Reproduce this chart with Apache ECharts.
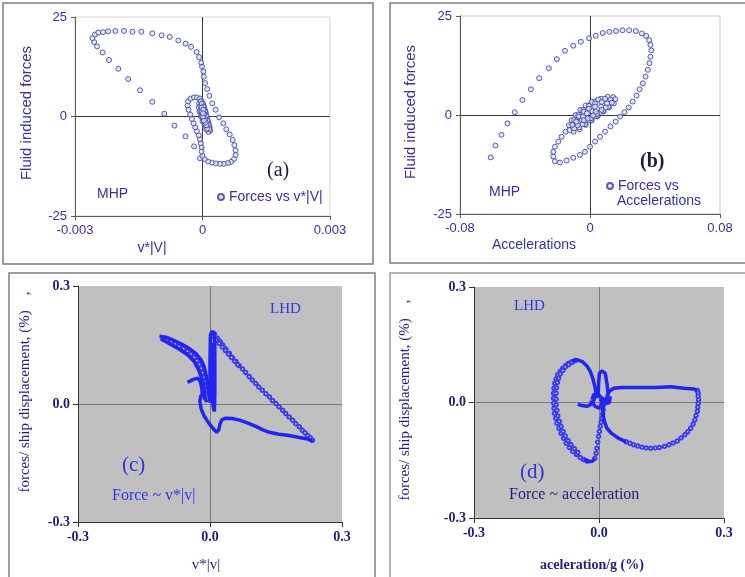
<!DOCTYPE html>
<html>
<head>
<meta charset="utf-8">
<script src="https://cdn.jsdelivr.net/npm/echarts@6/dist/echarts.min.js"></script>
<style>
  html, body { margin: 0; padding: 0; background: #fff; }
  #chart { width: 745px; height: 577px; }
</style>
</head>
<body>
<div id="chart"></div>
<script>
// ---- (a) MHP: fluid induced forces vs v*|v|
const aVel = [-0.00006,-0.00020,-0.00040,-0.00066,-0.00090,-0.00118,-0.00147,-0.00175,-0.00198,-0.00220,
  -0.00235,-0.00248,-0.00255,-0.00259,-0.00253,-0.00245,-0.00234,-0.00222,-0.00205,-0.00185,
  -0.00165,-0.00144,-0.00118,-0.00096,-0.00077,-0.00057,-0.00040,-0.00027,-0.00014,-0.00008,
  -0.00003,-0.00001,0.00002,0.00003,0.00006,0.00011,0.00016,0.00023,0.00031,0.00039,
  0.00049,0.00056,0.00064,0.00071,0.00075,0.00078,0.00078,0.00074,0.00067,0.00060,
  0.00050,0.00041,0.00031,0.00022,0.00013,0.00005,0.00000,-0.00002,-0.00002,-0.00004,
  -0.00006,-0.00009,-0.00013,-0.00017,-0.00021,-0.00025,-0.00029,-0.00033,-0.00035,-0.00034,
  -0.00028,-0.00020,-0.00013,-0.00006,-0.00002,0.00002,0.00005,0.00008,0.00011,0.00014,
  0.00017,0.00018,0.00014,0.00009,0.00005,0.00000,-0.00004,-0.00007,-0.00009,-0.00008,
  -0.00004,0.00001,0.00004,0.00007,0.00010,0.00013,0.00016,0.00016,0.00011,0.00006,
  0.00002,-0.00002,-0.00005,-0.00005,-0.00002,0.00002,0.00005,0.00008,0.00011,0.00013,
  0.00009,0.00004,0.00000,-0.00002,-0.00002,0.00002,0.00004,0.00006,0.00007,0.00003,
  0.00001,0.00001];
const aForce = [-10.5,-7.5,-5.0,-2.3,0.7,3.7,6.6,9.4,12.0,14.2,
  16.1,17.6,18.7,19.7,20.6,21.1,21.2,21.4,21.5,21.5,
  21.3,21.3,20.9,20.4,20.0,19.1,18.3,17.5,16.2,14.9,
  13.5,12.5,11.3,10.0,8.4,6.9,5.2,3.3,1.7,-0.2,
  -1.7,-3.2,-4.5,-5.9,-7.2,-8.5,-9.7,-10.7,-11.4,-11.7,
  -11.9,-11.9,-11.8,-11.6,-11.3,-10.7,-9.9,-8.8,-7.7,-6.7,
  -5.7,-4.7,-3.7,-2.7,-1.7,-0.6,0.5,1.7,2.8,3.8,
  4.5,4.8,4.8,4.5,3.8,2.9,1.8,0.7,-0.5,-1.7,
  -2.8,-3.6,-3.9,-3.3,-2.3,-1.2,0.0,1.2,2.3,3.3,
  3.8,3.3,2.3,1.2,0.0,-1.2,-2.3,-3.2,-3.0,-2.0,
  -0.8,0.3,1.5,2.7,3.2,2.5,1.3,0.2,-1.0,-2.0,
  -2.2,-1.2,0.0,1.2,2.2,1.7,0.5,-0.7,-1.5,-1.0,
  0.0,0.8];

// ---- (b) MHP: fluid induced forces vs accelerations
const bAcc = [-0.0611,-0.0582,-0.0545,-0.0508,-0.0463,-0.0416,-0.0364,-0.0313,-0.0253,-0.0204,
  -0.0154,-0.0103,-0.0056,-0.0006,0.0035,0.0078,0.0119,0.0160,0.0200,0.0241,
  0.0282,0.0319,0.0346,0.0364,0.0372,0.0377,0.0372,0.0366,0.0356,0.0342,
  0.0325,0.0305,0.0286,0.0263,0.0239,0.0212,0.0185,0.0158,0.0126,0.0093,
  0.0062,0.0031,0.0000,-0.0031,-0.0062,-0.0103,-0.0144,-0.0185,-0.0216,-0.0226,
  -0.0226,-0.0216,-0.0195,-0.0175,-0.0150,-0.0123,-0.0103,-0.0082,
  -0.0047,-0.0010,0.0027,0.0068,0.0109,0.0142,0.0156,0.0146,0.0117,0.0084,
  0.0047,0.0010,-0.0027,-0.0064,-0.0101,-0.0126,-0.0130,-0.0113,-0.0088,-0.0060,
  -0.0027,0.0010,0.0051,0.0093,0.0126,0.0134,0.0113,0.0080,0.0043,0.0006,
  -0.0031,-0.0068,-0.0097,-0.0109,-0.0097,-0.0072,-0.0041,-0.0006,0.0031,0.0072,
  0.0105,0.0097,0.0064,0.0027,-0.0010,-0.0047,-0.0076,-0.0084,-0.0068,-0.0039,
  -0.0006,0.0031,0.0068,0.0072,0.0043,0.0006,-0.0031,-0.0051,-0.0043,-0.0019,
  0.0014,0.0035,0.0019,-0.0014,-0.0039];
const bForce = [-10.7,-7.7,-5.0,-2.1,0.7,3.8,6.5,9.3,11.8,14.1,
  16.2,17.5,18.5,19.4,20.0,20.7,21.0,21.2,21.4,21.4,
  21.2,20.6,20.0,18.9,17.7,16.3,14.7,13.1,11.4,9.7,
  8.0,6.5,4.9,3.4,1.9,0.7,-0.4,-1.7,-2.9,-4.2,
  -5.5,-6.7,-8.0,-9.3,-10.1,-10.8,-11.5,-12.0,-11.7,-10.5,
  -9.3,-8.0,-6.7,-5.5,-4.2,-2.9,-1.9,-0.8,
  1.1,2.4,3.4,4.1,4.6,4.5,4.0,2.9,1.9,0.9,
  -0.3,-1.4,-2.5,-3.6,-4.2,-3.8,-2.6,-1.3,0.0,1.3,
  2.4,3.3,3.9,4.1,3.9,3.1,2.1,1.0,-0.2,-1.3,
  -2.3,-3.1,-3.4,-2.5,-1.3,0.0,1.3,2.3,2.9,3.3,
  2.9,1.9,0.8,-0.4,-1.4,-2.3,-2.6,-1.7,-0.4,0.8,
  1.6,2.1,2.1,1.3,0.3,-0.8,-1.4,-1.3,-0.4,0.4,
  0.9,0.8,-0.1,-0.9,-1.3];

// ---- (c) LHD: force / ship displacement vs v*|v|  ([x, y] pairs, % units)
const cBandUpper = [[-0.115,0.172],[-0.100,0.170],[-0.085,0.163],[-0.066,0.153],[-0.047,0.141],[-0.032,0.128],
  [-0.020,0.112],[-0.013,0.094],[-0.008,0.070],[-0.005,0.045],[-0.003,0.024],[0.000,0.007]];
const cBandLower = [[-0.111,0.165],[-0.092,0.153],[-0.070,0.139],[-0.051,0.125],[-0.036,0.108],[-0.026,0.087],
  [-0.018,0.063],[-0.014,0.041],[-0.011,0.019],[-0.008,0.004]];
const cBandRings = [[-0.107,0.166],[-0.098,0.162],[-0.088,0.158],[-0.079,0.153],[-0.070,0.147],[-0.060,0.141],
  [-0.051,0.134],[-0.043,0.127],[-0.036,0.119],[-0.030,0.110],[-0.024,0.101],[-0.020,0.091],[-0.017,0.080],
  [-0.014,0.068],[-0.011,0.057],[-0.009,0.046],[-0.008,0.035]];
const cSpike = [[0.000,0.003],[0.000,0.112],[0.001,0.176],[0.005,0.185],[0.010,0.180],[0.011,0.146],
  [0.011,0.087],[0.011,0.028],[0.010,-0.019],[0.007,-0.006],[0.005,0.028],[0.005,0.087],[0.004,0.155]];
const cDiag = [[0.010,0.178],[0.017,0.167],[0.023,0.159],[0.029,0.150],[0.036,0.140],[0.044,0.129],[0.051,0.118],
  [0.059,0.108],[0.066,0.098],[0.074,0.089],[0.081,0.080],[0.089,0.070],[0.096,0.061],[0.104,0.052],
  [0.111,0.043],[0.119,0.035],[0.127,0.026],[0.135,0.018],[0.142,0.009],[0.150,0.001],[0.157,-0.007],
  [0.165,-0.016],[0.172,-0.024],[0.180,-0.033],[0.188,-0.041],[0.195,-0.050],[0.203,-0.058],
  [0.210,-0.067],[0.216,-0.073],[0.222,-0.080],[0.228,-0.086],[0.233,-0.092]];
const cDiagInner = [[0.007,0.172],[0.014,0.163],[0.021,0.154],[0.028,0.145],[0.035,0.136],[0.042,0.127],
  [0.049,0.118],[0.056,0.109],[0.063,0.100]];
const cBottom = [[0.233,-0.095],[0.222,-0.089],[0.203,-0.085],[0.180,-0.080],[0.157,-0.077],[0.135,-0.072],
  [0.119,-0.065],[0.104,-0.057],[0.085,-0.048],[0.067,-0.041],[0.051,-0.037],[0.036,-0.036],[0.027,-0.040],
  [0.023,-0.050],[0.020,-0.065],[0.015,-0.072],[0.006,-0.061],[-0.003,-0.048],[-0.013,-0.031],
  [-0.020,-0.013],[-0.023,0.007],[-0.021,0.021],[-0.015,0.024],[-0.011,0.011]];
const cHook = [[-0.051,0.055],[-0.039,0.062],[-0.028,0.066],[-0.022,0.057],[-0.019,0.041],[-0.017,0.019]];

// ---- (d) LHD: force / ship displacement vs acceleration/g
const dLeftLoop = [[-0.057,0.109],[-0.065,0.106],[-0.073,0.102],[-0.080,0.096],[-0.087,0.089],[-0.093,0.081],
  [-0.099,0.072],[-0.103,0.061],[-0.106,0.050],[-0.108,0.037],[-0.109,0.024],[-0.109,0.011],[-0.109,-0.002],
  [-0.108,-0.015],[-0.107,-0.028],[-0.104,-0.041],[-0.101,-0.054],[-0.096,-0.067],[-0.091,-0.080],
  [-0.085,-0.093],[-0.079,-0.106],[-0.071,-0.117],[-0.063,-0.127],[-0.054,-0.135],[-0.045,-0.143],
  [-0.037,-0.148],[-0.029,-0.152]];
const dLeftInner = [[-0.065,0.104],[-0.073,0.098],[-0.081,0.092],[-0.087,0.083],[-0.093,0.074],[-0.097,0.063],
  [-0.100,0.052],[-0.102,0.038],[-0.103,0.024],[-0.103,0.009],[-0.103,-0.006],[-0.101,-0.020],[-0.099,-0.035],
  [-0.095,-0.049],[-0.091,-0.062],[-0.086,-0.075],[-0.081,-0.087],[-0.074,-0.099],[-0.067,-0.110],
  [-0.059,-0.120],[-0.051,-0.130]];
const dLeftBottom = [[-0.037,-0.147],[-0.025,-0.154],[-0.015,-0.152],[-0.010,-0.145]];
const dRise = [[-0.010,-0.145],[-0.007,-0.132],[-0.005,-0.119],[-0.003,-0.103],[-0.001,-0.088],[0.001,-0.075],
  [0.003,-0.062],[0.005,-0.051],[0.007,-0.041],[0.009,-0.030],[0.010,-0.019]];
const dLeftTop = [[-0.065,0.108],[-0.053,0.111],[-0.041,0.107],[-0.029,0.095],[-0.021,0.081],[-0.015,0.063],
  [-0.010,0.042],[-0.007,0.024]];
const dSpike = [[-0.002,0.016],[-0.001,0.050],[0.001,0.076],[0.007,0.082],[0.015,0.076],[0.019,0.050],
  [0.022,0.024],[0.015,-0.002],[0.009,-0.015]];
const dRightTop = [[0.019,0.016],[0.025,0.029],[0.035,0.037],[0.055,0.039],[0.095,0.039],[0.136,0.039],
  [0.172,0.041],[0.204,0.037],[0.228,0.035],[0.236,0.031]];
const dRightLoop = [[0.236,0.031],[0.238,0.024],[0.238,0.016],[0.239,0.007],[0.238,-0.002],[0.237,-0.012],
  [0.236,-0.023],[0.233,-0.034],[0.230,-0.045],[0.226,-0.056],[0.220,-0.067],[0.213,-0.076],[0.206,-0.084],
  [0.197,-0.092],[0.188,-0.100],[0.178,-0.105],[0.168,-0.110],[0.157,-0.114],[0.145,-0.117],[0.135,-0.118],
  [0.124,-0.119],[0.113,-0.118],[0.103,-0.116],[0.093,-0.113],[0.083,-0.110],[0.074,-0.106],[0.065,-0.102]];
const dRightBottom = [[0.065,-0.102],[0.047,-0.093],[0.031,-0.081],[0.019,-0.067],[0.013,-0.049],
  [0.010,-0.032],[0.009,-0.015]];
const dTail = [[-0.051,-0.004],[-0.041,-0.008],[-0.029,-0.010],[-0.021,-0.006],[-0.017,0.005]];
const dKnot = [[-0.017,0.007],[-0.013,0.020],[-0.005,0.024],[0.003,0.016],[0.007,-0.002],[0.001,-0.015],
  [-0.009,-0.010],[-0.015,-0.002],[-0.010,0.014],[-0.001,0.017],[0.011,0.009],[0.019,-0.002],
  [0.025,0.000],[0.027,0.016]];

// ---- axis ranges
const aXRange = [-0.003, 0.003];
const bXRange = [-0.08, 0.08];
const abYRange = [-25, 25];
const cdRange = [-0.3, 0.3];

const zip = (xs, ys) => xs.map((x, i) => [x, ys[i]]);

const NAVY = '#333399';
const SANS = '"Liberation Sans", Arial, sans-serif';
const SERIF = '"Liberation Serif", "Times New Roman", serif';
const BLUE = '#2424f2';

function sansAxes(idx, range, interval) {
  return {
    gridIndex: idx, type: 'value', min: range[0], max: range[1], interval: interval,
    axisLine: { show: true, onZero: false, lineStyle: { color: '#5a5a5a', width: 1 } },
    axisTick: { show: true, length: 4, lineStyle: { color: '#5a5a5a' } },
    axisLabel: { color: NAVY, fontFamily: SANS, fontSize: 13 },
    splitLine: { show: true, showMinLine: false, showMaxLine: false, lineStyle: { color: '#3c3c3c', width: 1 } }
  };
}
function serifAxes(idx) {
  return {
    gridIndex: idx, type: 'value', min: cdRange[0], max: cdRange[1], interval: 0.3,
    axisLine: { show: true, onZero: false, lineStyle: { color: '#333', width: 1 } },
    axisTick: { show: true, length: 5, lineStyle: { color: '#333' } },
    axisLabel: { color: '#1f1f7a', fontFamily: SERIF, fontSize: 14, fontWeight: 'bold',
      formatter: v => v.toFixed(1) },
    splitLine: { show: true, showMinLine: false, showMaxLine: false, lineStyle: { color: '#7a7a7a', width: 1 } }
  };
}

const ringStyle = { color: '#d6e2f6', borderColor: '#38389c', borderWidth: 1 };
const thick = (name, data, xi) => ({
  name, type: 'line', xAxisIndex: xi, yAxisIndex: xi, data, symbol: 'none',
  lineStyle: { color: BLUE, width: 3.5 }, z: 3, silent: true, animation: false
});
const thin = (name, data, xi) => ({
  name, type: 'line', xAxisIndex: xi, yAxisIndex: xi, data, symbol: 'emptyCircle', symbolSize: 3.5,
  itemStyle: { color: '#3a3af0', borderWidth: 0.8 }, lineStyle: { color: '#6a6af0', width: 0.7 },
  z: 2, silent: true, animation: false
});

const chart = echarts.init(document.getElementById('chart'), null, { renderer: 'canvas' });
chart.setOption({
  backgroundColor: '#ffffff',
  animation: false,
  grid: [
    { left: 75, top: 17, width: 255, height: 199, show: true, borderColor: '#d4d4d4', borderWidth: 1 },
    { left: 460, top: 16, width: 260, height: 198, show: true, borderColor: '#c8c8c8', borderWidth: 1 },
    { left: 78, top: 286, width: 264, height: 236, show: true, backgroundColor: '#c0c0c0', borderWidth: 0 },
    { left: 474, top: 287, width: 250, height: 231, show: true, backgroundColor: '#c0c0c0', borderWidth: 0 }
  ],
  xAxis: [
    sansAxes(0, aXRange, 0.003),
    sansAxes(1, bXRange, 0.08),
    serifAxes(2),
    serifAxes(3)
  ],
  yAxis: [
    sansAxes(0, abYRange, 25),
    sansAxes(1, abYRange, 25),
    serifAxes(2),
    serifAxes(3)
  ],
  legend: [
    { data: ['Forces vs v*|V|'], left: 217, top: 190, itemWidth: 6, itemHeight: 6, padding: 0,
      textStyle: { color: NAVY, fontFamily: SANS, fontSize: 14 } },
    { data: ['Forces vs Accelerations'], left: 606, top: 179, itemWidth: 6, itemHeight: 6, padding: 0,
      formatter: name => name.replace(' Accelerations', ''),
      textStyle: { color: NAVY, fontFamily: SANS, fontSize: 14 } }
  ],
  series: [
    { name: 'Forces vs v*|V|', type: 'scatter', xAxisIndex: 0, yAxisIndex: 0, data: zip(aVel, aForce),
      symbol: 'circle', symbolSize: 5, itemStyle: ringStyle },
    { name: 'Forces vs Accelerations', type: 'scatter', xAxisIndex: 1, yAxisIndex: 1, data: zip(bAcc, bForce),
      symbol: 'circle', symbolSize: 5, itemStyle: ringStyle },
    thin('c-diag', cDiag, 2),
    thin('c-diag-inner', cDiagInner, 2),
    thin('c-band-rings', cBandRings, 2),
    thick('c-band-upper', cBandUpper, 2),
    thick('c-band-lower', cBandLower, 2),
    thick('c-spike', cSpike, 2),
    thick('c-bottom', cBottom, 2),
    thick('c-hook', cHook, 2),
    thin('d-left-loop', dLeftLoop, 3),
    thin('d-left-inner', dLeftInner, 3),
    thin('d-rise', dRise, 3),
    thin('d-right-loop', dRightLoop, 3),
    thick('d-left-bottom', dLeftBottom, 3),
    thick('d-left-top', dLeftTop, 3),
    thick('d-spike', dSpike, 3),
    thick('d-right-top', dRightTop, 3),
    thick('d-right-bottom', dRightBottom, 3),
    thick('d-tail', dTail, 3),
    thick('d-knot', dKnot, 3)
  ],
  graphic: [
    // panel frames
    { type: 'rect', shape: { x: 3, y: 3, width: 370, height: 261 }, style: { fill: null, stroke: '#7d7d7d', lineWidth: 1.5 }, z: 0 },
    { type: 'rect', shape: { x: 390, y: 3, width: 370, height: 260 }, style: { fill: null, stroke: '#7d7d7d', lineWidth: 1.5 }, z: 0 },
    { type: 'rect', shape: { x: 9, y: 273, width: 366, height: 320 }, style: { fill: null, stroke: '#7d7d7d', lineWidth: 1.5 }, z: 0 },
    { type: 'rect', shape: { x: 390, y: 273, width: 370, height: 320 }, style: { fill: null, stroke: '#9a9a9a', lineWidth: 1.5 }, z: 0 },
    // (a) texts
    { type: 'text', x: 27, y: 113, rotation: Math.PI / 2, style: { text: 'Fluid induced forces', align: 'center', verticalAlign: 'middle', fill: NAVY, font: '15px ' + SANS } },
    { type: 'text', x: 152, y: 248, style: { text: 'v*|V|', align: 'center', verticalAlign: 'middle', fill: NAVY, font: '14px ' + SANS } },
    { type: 'text', x: 97, y: 194, style: { text: 'MHP', align: 'left', verticalAlign: 'middle', fill: NAVY, font: '14px ' + SANS } },
    { type: 'text', x: 267, y: 171, style: { text: '(a)', align: 'left', verticalAlign: 'middle', fill: '#1c1c3c', font: '20px ' + SERIF } },
    // (b) texts
    { type: 'text', x: 411, y: 112, rotation: Math.PI / 2, style: { text: 'Fluid induced forces', align: 'center', verticalAlign: 'middle', fill: NAVY, font: '15px ' + SANS } },
    { type: 'text', x: 534, y: 245, style: { text: 'Accelerations', align: 'center', verticalAlign: 'middle', fill: NAVY, font: '14px ' + SANS } },
    { type: 'text', x: 489, y: 192, style: { text: 'MHP', align: 'left', verticalAlign: 'middle', fill: NAVY, font: '14px ' + SANS } },
    { type: 'text', x: 640, y: 162, style: { text: '(b)', align: 'left', verticalAlign: 'middle', fill: '#1c1c3c', font: 'bold 20px ' + SERIF } },
    { type: 'text', x: 617, y: 201, style: { text: 'Accelerations', align: 'left', verticalAlign: 'middle', fill: NAVY, font: '14px ' + SANS } },
    // (c) texts
    { type: 'text', x: 25, y: 392, rotation: Math.PI / 2, style: { text: 'forces/ ship displacement, (%)    ,', align: 'center', verticalAlign: 'middle', fill: '#1f1f7a', font: '15px ' + SERIF } },
    { type: 'text', x: 206, y: 565, style: { text: 'v*|v|', align: 'center', verticalAlign: 'middle', fill: '#1f1f7a', font: '15px ' + SERIF } },
    { type: 'text', x: 270, y: 309, style: { text: 'LHD', align: 'left', verticalAlign: 'middle', fill: '#3636e6', font: '15px ' + SERIF } },
    { type: 'text', x: 122, y: 465, style: { text: '(c)', align: 'left', verticalAlign: 'middle', fill: '#3030d8', font: '21px ' + SERIF } },
    { type: 'text', x: 112, y: 496, style: { text: 'Force ~ v*|v|', align: 'left', verticalAlign: 'middle', fill: '#3636e6', font: '16px ' + SERIF } },
    // (d) texts
    { type: 'text', x: 405, y: 400, rotation: Math.PI / 2, style: { text: 'forces/ ship displacement, (%)    ,', align: 'center', verticalAlign: 'middle', fill: '#1f1f7a', font: '15px ' + SERIF } },
    { type: 'text', x: 592, y: 565, style: { text: 'aceleration/g (%)', align: 'center', verticalAlign: 'middle', fill: '#1f1f7a', font: 'bold 14px ' + SERIF } },
    { type: 'text', x: 514, y: 306, style: { text: 'LHD', align: 'left', verticalAlign: 'middle', fill: '#3636e6', font: '15px ' + SERIF } },
    { type: 'text', x: 520, y: 472, style: { text: '(d)', align: 'left', verticalAlign: 'middle', fill: '#3030d8', font: '21px ' + SERIF } },
    { type: 'text', x: 509, y: 495, style: { text: 'Force ~ acceleration', align: 'left', verticalAlign: 'middle', fill: '#1f1f7a', font: '16px ' + SERIF } }
  ]
});
</script>
</body>
</html>
